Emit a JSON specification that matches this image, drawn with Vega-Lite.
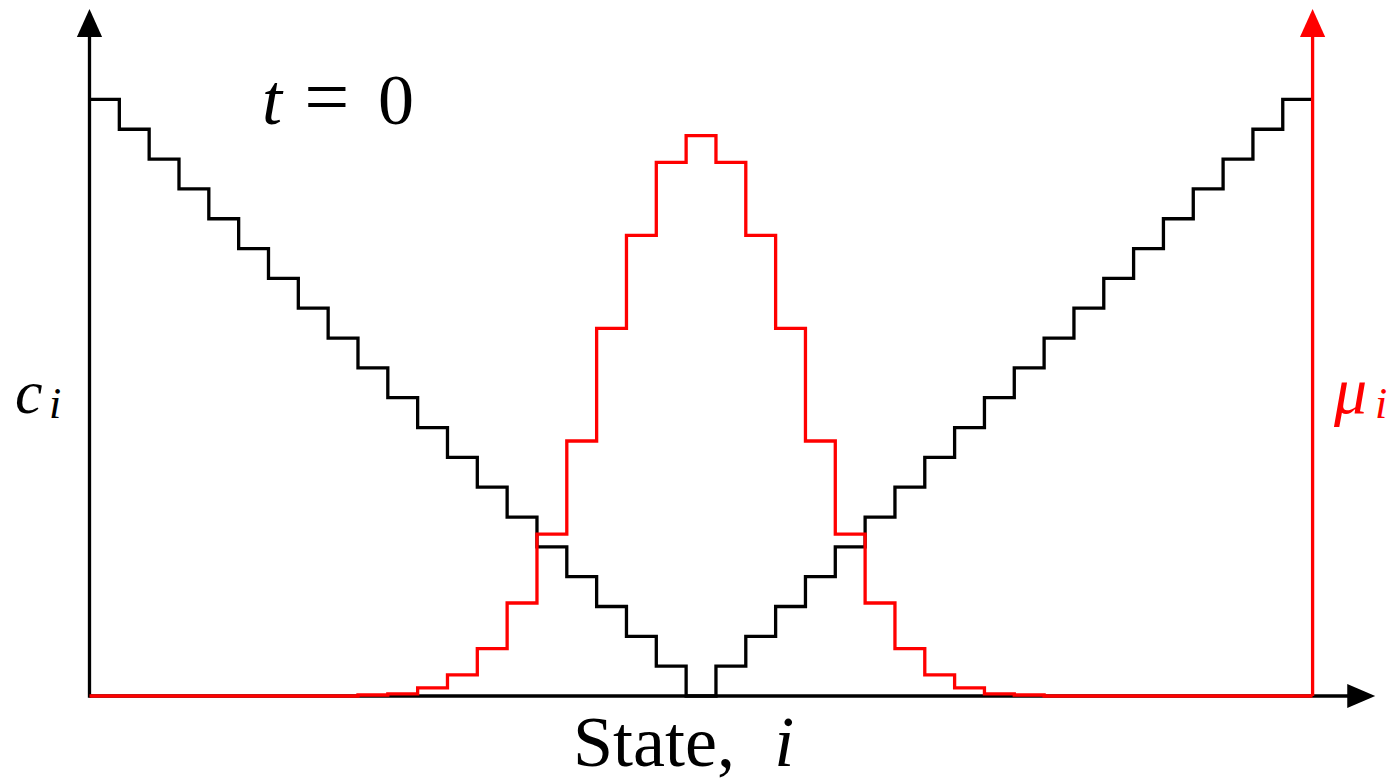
{
  "$schema": "https://vega.github.io/schema/vega-lite/v6.json",
  "width": 1400,
  "height": 782,
  "padding": 0,
  "autosize": {"type": "fit", "contains": "padding"},
  "background": "white",
  "config": {"view": {"stroke": null}},
  "data": {
    "values": [
      {"i": 0, "c": 20, "mu": 0},
      {"i": 1, "c": 19, "mu": 0},
      {"i": 2, "c": 18, "mu": 0},
      {"i": 3, "c": 17, "mu": 0},
      {"i": 4, "c": 16, "mu": 0},
      {"i": 5, "c": 15, "mu": 0},
      {"i": 6, "c": 14, "mu": 0},
      {"i": 7, "c": 13, "mu": 0},
      {"i": 8, "c": 12, "mu": 0},
      {"i": 9, "c": 11, "mu": 0.0018},
      {"i": 10, "c": 10, "mu": 0.004},
      {"i": 11, "c": 9, "mu": 0.0146},
      {"i": 12, "c": 8, "mu": 0.0378},
      {"i": 13, "c": 7, "mu": 0.0847},
      {"i": 14, "c": 6, "mu": 0.166},
      {"i": 15, "c": 5, "mu": 0.289},
      {"i": 16, "c": 4, "mu": 0.455},
      {"i": 17, "c": 3, "mu": 0.656},
      {"i": 18, "c": 2, "mu": 0.822},
      {"i": 19, "c": 1, "mu": 0.952},
      {"i": 20, "c": 0, "mu": 1},
      {"i": 21, "c": 1, "mu": 0.952},
      {"i": 22, "c": 2, "mu": 0.822},
      {"i": 23, "c": 3, "mu": 0.656},
      {"i": 24, "c": 4, "mu": 0.455},
      {"i": 25, "c": 5, "mu": 0.289},
      {"i": 26, "c": 6, "mu": 0.166},
      {"i": 27, "c": 7, "mu": 0.0847},
      {"i": 28, "c": 8, "mu": 0.0378},
      {"i": 29, "c": 9, "mu": 0.0146},
      {"i": 30, "c": 10, "mu": 0.004},
      {"i": 31, "c": 11, "mu": 0.0018},
      {"i": 32, "c": 12, "mu": 0},
      {"i": 33, "c": 13, "mu": 0},
      {"i": 34, "c": 14, "mu": 0},
      {"i": 35, "c": 15, "mu": 0},
      {"i": 36, "c": 16, "mu": 0},
      {"i": 37, "c": 17, "mu": 0},
      {"i": 38, "c": 18, "mu": 0},
      {"i": 39, "c": 19, "mu": 0},
      {"i": 40, "c": 20, "mu": 0},
      {"i": 41, "c": 20, "mu": 0}
    ]
  },
  "layer": [
    {
      "layer": [
        {
          "data": {"values": [{}]},
          "mark": {"type": "rule", "color": "black", "strokeWidth": 3.3},
          "encoding": {
            "x": {"datum": 0, "type": "quantitative", "axis": null},
            "x2": {"datum": 42.2},
            "y": {"datum": 0, "type": "quantitative", "axis": null}
          }
        },
        {
          "data": {"values": [{}]},
          "mark": {"type": "rule", "color": "black", "strokeWidth": 3.3, "strokeCap": "square"},
          "encoding": {
            "x": {"datum": 0, "type": "quantitative", "axis": null},
            "y": {"datum": 0, "type": "quantitative", "axis": null},
            "y2": {"datum": 22.1}
          }
        },
        {
          "mark": {"type": "line", "color": "black", "strokeWidth": 3.3, "interpolate": "step-after", "strokeJoin": "miter"},
          "encoding": {
            "x": {"field": "i", "type": "quantitative", "axis": null, "scale": {"domain": [-3, 43.93], "nice": false, "zero": false}},
            "y": {"field": "c", "type": "quantitative", "axis": null, "scale": {"domain": [-2.883, 23.333], "nice": false, "zero": false}}
          }
        },
        {
          "data": {"values": [{}]},
          "mark": {"type": "rule", "color": "#ff0000", "strokeWidth": 3.3},
          "encoding": {
            "x": {"datum": 41, "type": "quantitative", "axis": null},
            "y": {"datum": 0, "type": "quantitative", "axis": null},
            "y2": {"datum": 22.1}
          }
        },
        {
          "data": {"values": [{}]},
          "mark": {"type": "point", "shape": "M0,-1L0.9,1L-0.9,1Z", "filled": true, "size": 784, "color": "black", "opacity": 1, "strokeWidth": 0},
          "encoding": {
            "x": {"datum": 0, "type": "quantitative", "axis": null},
            "y": {"datum": 22.56, "type": "quantitative", "axis": null}
          }
        },
        {
          "data": {"values": [{}]},
          "mark": {"type": "point", "shape": "M0,-1L0.9,1L-0.9,1Z", "filled": true, "size": 784, "color": "#ff0000", "opacity": 1, "strokeWidth": 0},
          "encoding": {
            "x": {"datum": 41, "type": "quantitative", "axis": null},
            "y": {"datum": 22.56, "type": "quantitative", "axis": null}
          }
        },
        {
          "data": {"values": [{}]},
          "mark": {"type": "point", "shape": "M1,0L-1,0.85L-1,-0.85Z", "filled": true, "size": 784, "color": "black", "opacity": 1, "strokeWidth": 0},
          "encoding": {
            "x": {"datum": 42.63, "type": "quantitative", "axis": null},
            "y": {"datum": 0, "type": "quantitative", "axis": null}
          }
        },
        {
          "data": {"values": [{}]},
          "mark": {"type": "text", "text": "t", "font": "Liberation Serif", "fontStyle": "italic", "fontSize": 72, "align": "left", "baseline": "alphabetic", "color": "black"},
          "encoding": {
            "x": {"datum": 5.78, "type": "quantitative", "axis": null},
            "y": {"datum": 19.175, "type": "quantitative", "axis": null}
          }
        },
        {
          "data": {"values": [{}]},
          "mark": {"type": "text", "text": "=", "font": "Liberation Serif", "fontSize": 80, "align": "left", "baseline": "alphabetic", "color": "black"},
          "encoding": {
            "x": {"datum": 7.2, "type": "quantitative", "axis": null},
            "y": {"datum": 19.175, "type": "quantitative", "axis": null}
          }
        },
        {
          "data": {"values": [{}]},
          "mark": {"type": "text", "text": "0", "font": "Liberation Serif", "fontSize": 72, "align": "left", "baseline": "alphabetic", "color": "black"},
          "encoding": {
            "x": {"datum": 9.67, "type": "quantitative", "axis": null},
            "y": {"datum": 19.175, "type": "quantitative", "axis": null}
          }
        },
        {
          "data": {"values": [{}]},
          "mark": {"type": "text", "text": "State,", "font": "Liberation Serif", "fontSize": 72, "align": "left", "baseline": "alphabetic", "color": "black"},
          "encoding": {
            "x": {"datum": 16.21, "type": "quantitative", "axis": null},
            "y": {"datum": -2.347, "type": "quantitative", "axis": null}
          }
        },
        {
          "data": {"values": [{}]},
          "mark": {"type": "text", "text": "i", "font": "Liberation Serif", "fontStyle": "italic", "fontSize": 72, "align": "left", "baseline": "alphabetic", "color": "black"},
          "encoding": {
            "x": {"datum": 22.95, "type": "quantitative", "axis": null},
            "y": {"datum": -2.347, "type": "quantitative", "axis": null}
          }
        },
        {
          "data": {"values": [{}]},
          "mark": {"type": "text", "text": "c", "font": "Liberation Serif", "fontStyle": "italic", "fontSize": 62, "align": "left", "baseline": "alphabetic", "color": "black"},
          "encoding": {
            "x": {"datum": -2.5, "type": "quantitative", "axis": null},
            "y": {"datum": 9.487, "type": "quantitative", "axis": null}
          }
        },
        {
          "data": {"values": [{}]},
          "mark": {"type": "text", "text": "i", "font": "Liberation Serif", "fontStyle": "italic", "fontSize": 44, "align": "left", "baseline": "alphabetic", "color": "black"},
          "encoding": {
            "x": {"datum": -1.36, "type": "quantitative", "axis": null},
            "y": {"datum": 9.32, "type": "quantitative", "axis": null}
          }
        },
        {
          "data": {"values": [{}]},
          "mark": {"type": "text", "text": "μ", "font": "Liberation Serif", "fontStyle": "italic", "fontSize": 66, "align": "left", "baseline": "alphabetic", "color": "#ff0000"},
          "encoding": {
            "x": {"datum": 41.72, "type": "quantitative", "axis": null},
            "y": {"datum": 9.487, "type": "quantitative", "axis": null}
          }
        },
        {
          "data": {"values": [{}]},
          "mark": {"type": "text", "text": "i", "font": "Liberation Serif", "fontStyle": "italic", "fontSize": 44, "align": "left", "baseline": "alphabetic", "color": "#ff0000"},
          "encoding": {
            "x": {"datum": 43.09, "type": "quantitative", "axis": null},
            "y": {"datum": 9.32, "type": "quantitative", "axis": null}
          }
        }
      ]
    },
    {
      "mark": {"type": "line", "color": "#ff0000", "strokeWidth": 3.3, "interpolate": "step-after", "strokeJoin": "miter"},
      "encoding": {
        "x": {"field": "i", "type": "quantitative", "axis": null, "scale": {"domain": [-3, 43.93], "nice": false, "zero": false}},
        "y": {"field": "mu", "type": "quantitative", "axis": null, "scale": {"domain": [-0.1534, 1.2418], "nice": false, "zero": false}}
      }
    }
  ],
  "resolve": {"scale": {"y": "independent"}}
}
